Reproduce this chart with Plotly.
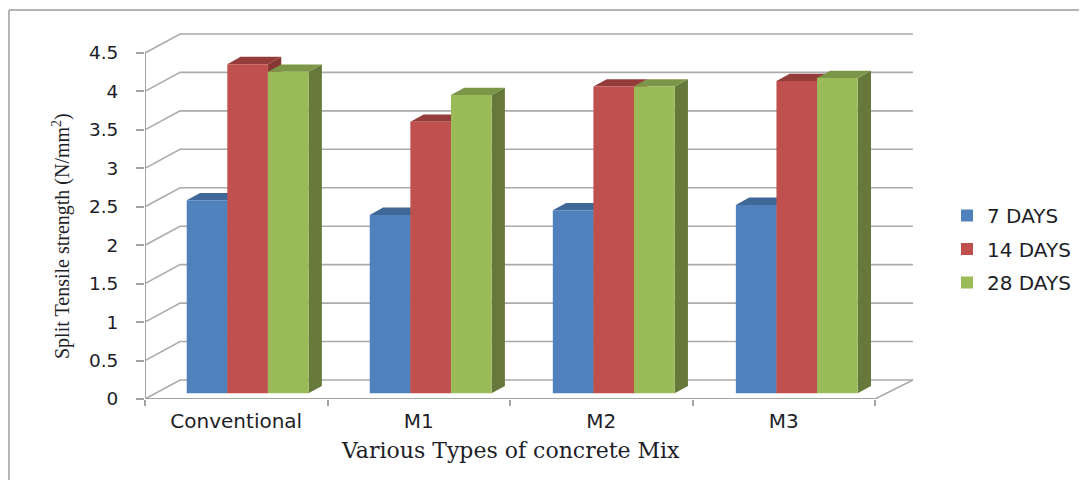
import plotly.graph_objects as go

categories = ["Conventional", "M1", "M2", "M3"]
days_7 = [2.51, 2.32, 2.38, 2.45]
days_14 = [4.28, 3.53, 3.99, 4.06]
days_28 = [4.18, 3.88, 3.99, 4.10]
series_names = ["7 DAYS", "14 DAYS", "28 DAYS"]
y_ticks = [0, 0.5, 1, 1.5, 2, 2.5, 3, 3.5, 4, 4.5]
y_tick_labels = ["0", "0.5", "1", "1.5", "2", "2.5", "3", "3.5", "4", "4.5"]

# --- styling / geometry (axis units) ---
front = ["#4F81BD", "#C0504D", "#9BBB59"]
top = ["#3F6797", "#943C3A", "#7C9647"]
side = ["#385D8A", "#863735", "#66793A"]
GRID = "#ABABAB"
AXIS = "#A3A3A3"
TEXT = "#1E1E28"
WALL_DX, WALL_DY = 0.192, 0.247     # depth of the chart box
WALL_RIGHT = 4.208
BAR_DX, BAR_DY = 0.073, 0.095       # depth of a bar
BASE = 0.074                        # bars stand slightly in from the front edge
BAR_W = 0.2225
BAR_OFFS = [0.3398, 0.5623, 0.7848]
PITCH = 1.003                       # slight perspective spread of the groups

fig = go.Figure()


def line(xs, ys, color=GRID, width=1.6):
    fig.add_trace(go.Scatter(x=xs, y=ys, mode="lines", showlegend=False, hoverinfo="skip",
                             cliponaxis=False, line=dict(color=color, width=width)))


# walls and floor
for v in y_ticks:
    line([0, WALL_DX, WALL_RIGHT], [v, v + WALL_DY, v + WALL_DY])
line([4, WALL_RIGHT], [0, WALL_DY])
line([0, 0], [0, y_ticks[-1]], AXIS, 2)
line([0, 4], [0, 0], AXIS, 2)

# bar depth faces, drawn from the same values
all_values = [days_7, days_14, days_28]
for s, vals in enumerate(all_values):
    for i, v in enumerate(vals):
        xl = i * PITCH + BAR_OFFS[s] - BAR_W / 2
        xr = xl + BAR_W
        yt = BASE + v
        fig.add_trace(go.Scatter(
            x=[xr, xr + BAR_DX, xr + BAR_DX, xr, xr],
            y=[BASE, BASE + BAR_DY, yt + BAR_DY, yt, BASE],
            mode="lines", fill="toself", fillcolor=side[s], line=dict(width=0),
            showlegend=False, hoverinfo="skip"))
        fig.add_trace(go.Scatter(
            x=[xl, xr, xr + BAR_DX, xl + BAR_DX, xl],
            y=[yt, yt, yt + BAR_DY, yt + BAR_DY, yt],
            mode="lines", fill="toself", fillcolor=top[s], line=dict(width=0),
            showlegend=False, hoverinfo="skip"))

# front faces on an overlaid pair of axes, so they sit above the depth faces
for s, vals in enumerate(all_values):
    fig.add_trace(go.Bar(
        x=[i * PITCH + BAR_OFFS[s] for i in range(len(categories))], y=vals, base=BASE,
        width=BAR_W, name=series_names[s], legendgroup=series_names[s],
        marker=dict(color=front[s], line=dict(width=0)),
        xaxis="x2", yaxis="y2", cliponaxis=False))

# page pixels -> paper fractions (the page body adds an 8 px offset)
PAGE = 8
L, R, T, B = 145, 915, 30, 399
W, H = R - L, B - T
px = lambda x: (x - L) / W
py = lambda y: (B - y) / H

XR = [0, W / 182.5]
YR = [0, H / 76.9]
x_font = dict(family="DejaVu Sans", size=20, color=TEXT)
y_font = dict(family="DejaVu Sans", size=18.5, color=TEXT)
fig.update_layout(
    width=1087, height=480, autosize=False,
    margin=dict(l=L - PAGE, r=1087 - (R - PAGE), t=T - PAGE, b=480 - (B - PAGE)),
    paper_bgcolor="white", plot_bgcolor="rgba(0,0,0,0)",
    barmode="overlay",
    xaxis=dict(range=XR, showgrid=False, zeroline=False, showline=False,
               tickmode="array", tickvals=[i + 0.5 for i in range(len(categories))],
               ticktext=categories, ticks="", tickfont=x_font, ticklabelstandoff=8,
               minor=dict(tickmode="array", tickvals=[0, 1, 2, 3, 4], ticks="outside",
                          ticklen=6, tickcolor=AXIS, tickwidth=1.5)),
    yaxis=dict(range=YR, showgrid=False, zeroline=False, showline=False,
               tickmode="array", tickvals=y_ticks, ticktext=y_tick_labels,
               ticks="outside", ticklen=8, tickcolor=AXIS, tickwidth=1.5,
               tickfont=y_font, ticklabelstandoff=14),
    xaxis2=dict(range=XR, overlaying="x", visible=False, showticklabels=False),
    yaxis2=dict(range=YR, overlaying="y", visible=False, showticklabels=False),
    legend=dict(x=px(947), y=py(196), xanchor="left", yanchor="top",
                font=dict(family="DejaVu Sans", size=20, color=TEXT),
                bgcolor="rgba(0,0,0,0)", tracegroupgap=4.5, traceorder="grouped"),
    annotations=[
        dict(text="Various Types of concrete Mix", xref="paper", yref="paper",
             x=px(510), y=py(451), showarrow=False, xanchor="center", yanchor="middle",
             font=dict(family="DejaVu Serif", size=22, color=TEXT)),
        dict(text="Split Tensile strength (N/mm<sup>2</sup>)", xref="paper", yref="paper",
             x=px(62), y=py(236), showarrow=False, textangle=-90,
             xanchor="center", yanchor="middle",
             font=dict(family="Liberation Serif", size=20, color=TEXT)),
    ],
    shapes=[
        dict(type="line", xref="paper", yref="paper", x0=px(9), x1=px(1095),
             y0=py(10), y1=py(10), line=dict(color="#B5B5B5", width=2)),
        dict(type="line", xref="paper", yref="paper", x0=px(9), x1=px(9),
             y0=py(10), y1=py(490), line=dict(color="#B5B5B5", width=2)),
    ],
)

fig.write_html("out.html")
